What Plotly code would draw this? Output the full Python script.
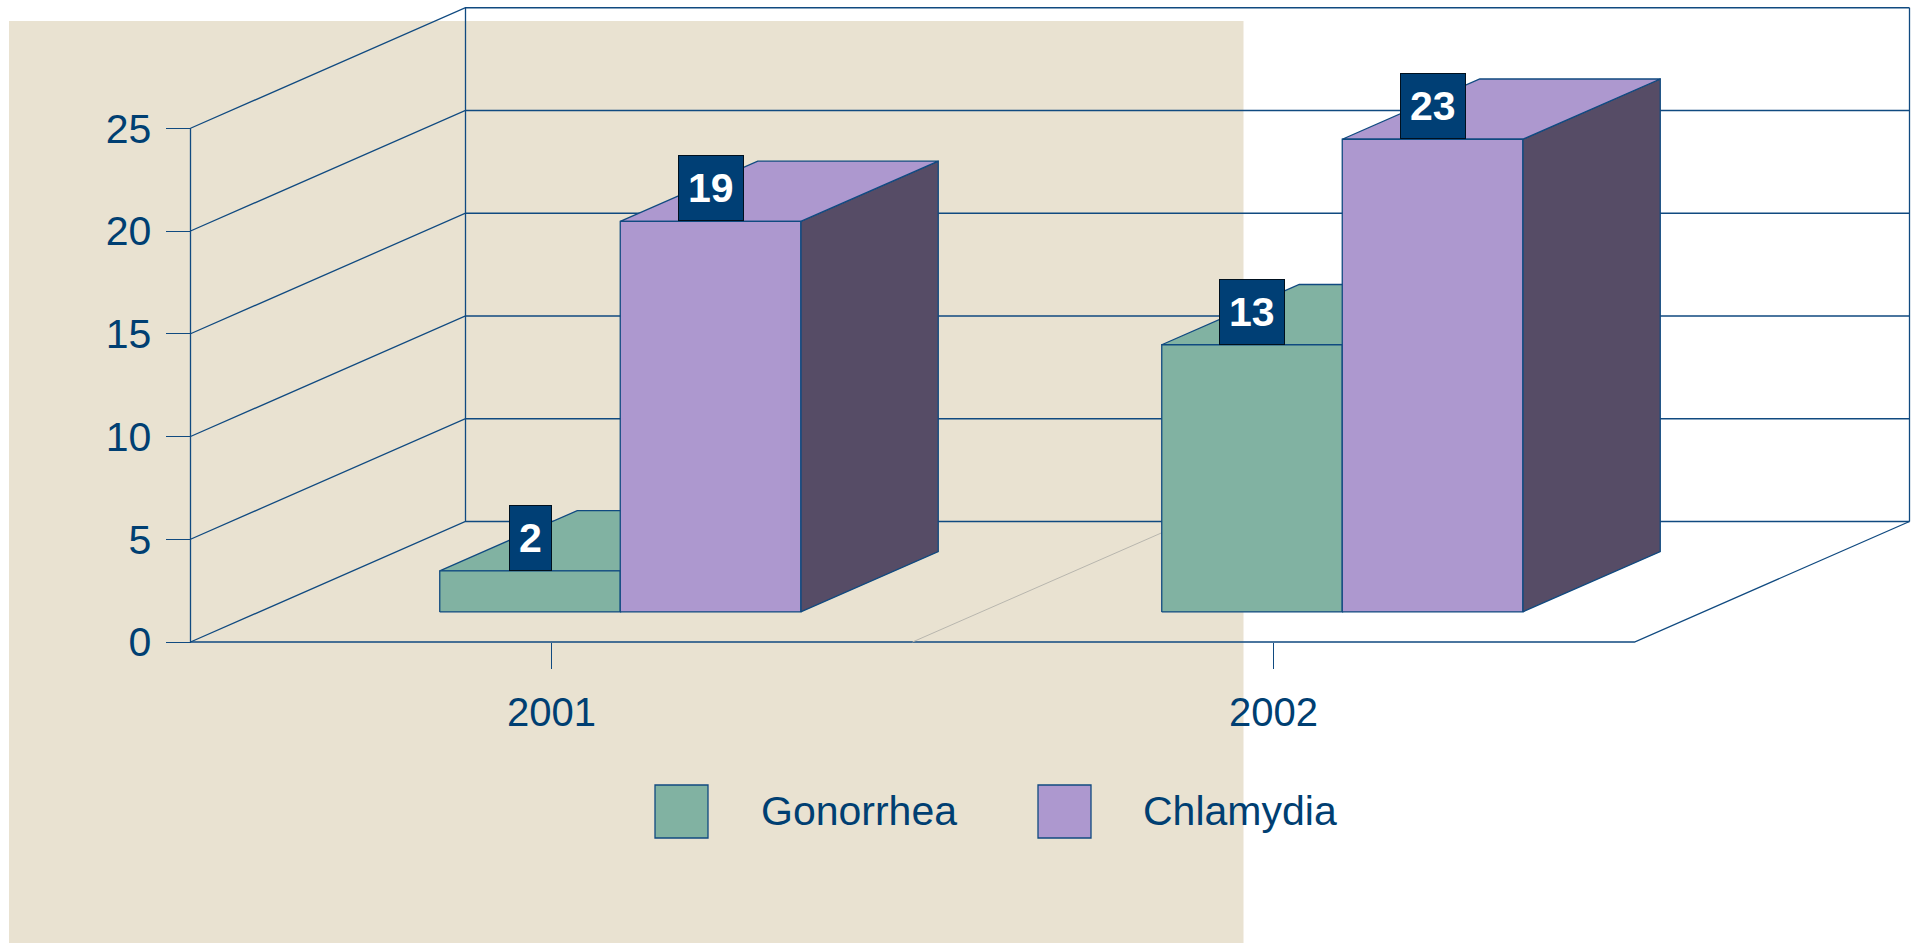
import plotly.graph_objects as go

# ---- data ----
years = ["2001", "2002"]
gonorrhea = [2, 13]
chlamydia = [19, 23]
series_names = ["Gonorrhea", "Chlamydia"]
y_ticks = [0, 5, 10, 15, 20, 25]

# ---- styles ----
W, H = 1917, 943
GREEN = "#81B2A2"
PURPLE = "#AD98CF"
SIDE = "#564C66"
LINE = "#104A80"
TEXT = "#003F72"
LABEL_BG = "#003F75"
BEIGE = "#E9E2D1"
FONT = "Liberation Sans, Arial, sans-serif"
LW = 1.3

# pixel scale of the two axes (layout only)
PX_X0, PX_PER_CAT = 551.5, 722.0
PX_Y0, PX_PER_UNIT = 642.0, 20.55

# oblique projection: how far the full depth shifts a point, in axis units
DEPTH_X = 275.0 / PX_PER_CAT
DEPTH_Y = 120.5 / PX_PER_UNIT
BAR_W = 0.25
D0, D1 = 0.25, 0.75  # bar occupies this fraction of the depth


def proj(x, y, d):
    return x + d * DEPTH_X, y + d * DEPTH_Y


def lines_trace(segments, color=LINE, width=LW):
    xs, ys = [], []
    for seg in segments:
        for p in seg:
            xs.append(p[0])
            ys.append(p[1])
        xs.append(None)
        ys.append(None)
    return go.Scatter(x=xs, y=ys, mode="lines", line=dict(color=color, width=width),
                      hoverinfo="skip", showlegend=False)


def poly_trace(points, fill, name=None):
    xs = [p[0] for p in points] + [points[0][0]]
    ys = [p[1] for p in points] + [points[0][1]]
    return go.Scatter(x=xs, y=ys, mode="lines", fill="toself", fillcolor=fill,
                      line=dict(color=LINE, width=LW), hoverinfo="skip" if name is None else "name",
                      name=name or "", showlegend=False)


fig = go.Figure()

x_left, x_right = -0.5, len(years) - 0.5
y_max = y_ticks[-1]

# walls and grid
segs = []
for t in y_ticks:
    segs.append([proj(x_left, t, 0), proj(x_left, t, 1), proj(x_right, t, 1)])
segs.append([proj(x_left, 0, 0), proj(x_left, y_max, 0)])
segs.append([proj(x_left, 0, 1), proj(x_left, y_max, 1)])
segs.append([proj(x_right, 0, 1), proj(x_right, y_max, 1)])
segs.append([proj(x_left, 0, 0), proj(x_right, 0, 0), proj(x_right, 0, 1)])
fig.add_trace(lines_trace(segs))

# floor divider between categories
fig.add_trace(lines_trace([[proj(i + 0.5, 0, 0), proj(i + 0.5, 0, 1)] for i in range(len(years) - 1)],
                          color="#B8B6AE", width=1))

# bars
label_pos = []
for i in range(len(years)):
    for s, (vals, col, nm) in enumerate(zip([gonorrhea, chlamydia], [GREEN, PURPLE], series_names)):
        v = vals[i]
        xa = i - BAR_W + s * BAR_W
        xb = xa + BAR_W
        fig.add_trace(poly_trace([proj(xb, 0, D0), proj(xb, 0, D1), proj(xb, v, D1), proj(xb, v, D0)],
                                 SIDE if s == 1 else col))
        fig.add_trace(poly_trace([proj(xa, v, D0), proj(xa, v, D1), proj(xb, v, D1), proj(xb, v, D0)], col))
        fig.add_trace(poly_trace([proj(xa, 0, D0), proj(xb, 0, D0), proj(xb, v, D0), proj(xa, v, D0)], col, nm))
        label_pos.append((proj((xa + xb) / 2, v, D0), v))

annotations = []
for (lx, ly), v in label_pos:
    annotations.append(dict(x=lx, y=ly, xref="x", yref="y", text=str(v), showarrow=False,
                            xanchor="center", yanchor="bottom",
                            font=dict(family=FONT, size=41, color="white", weight="bold"),
                            bgcolor=LABEL_BG, bordercolor="#00101E", borderwidth=1, borderpad=9))

# legend built by hand (swatches are larger than the native legend allows)
shapes = [dict(type="rect", xref="paper", yref="paper", layer="below",
               x0=9 / W, x1=1243.5 / W, y0=0, y1=1 - 21 / H, fillcolor=BEIGE, line=dict(width=0))]
for nm, col, sx, tx in zip(series_names, [GREEN, PURPLE], [655, 1038], [759, 1141]):
    shapes.append(dict(type="rect", xref="paper", yref="paper", x0=sx / W, x1=(sx + 53) / W,
                       y0=1 - 838 / H, y1=1 - 785 / H, fillcolor=col, line=dict(color=LINE, width=LW)))
    annotations.append(dict(x=tx / W, y=1 - 811 / H, xref="paper", yref="paper", text=nm, showarrow=False,
                            xanchor="left", yanchor="middle", font=dict(family=FONT, size=41, color=TEXT)))

fig.update_layout(
    width=W, height=H, autosize=False,
    margin=dict(l=0, r=0, t=0, b=0),
    paper_bgcolor="white", plot_bgcolor="rgba(0,0,0,0)",
    showlegend=False, shapes=shapes, annotations=annotations,
    font=dict(family=FONT, size=40, color=TEXT),
    xaxis=dict(range=[-PX_X0 / PX_PER_CAT, (W - PX_X0) / PX_PER_CAT], domain=[0, 1],
               tickmode="array", tickvals=list(range(len(years))), ticktext=years,
               ticks="outside", ticklen=26, tickwidth=1, tickcolor=LINE,
               showgrid=False, zeroline=False, showline=False,
               anchor="free", position=1 - PX_Y0 / H, ticklabelstandoff=9,
               tickfont=dict(family=FONT, size=40, color=TEXT)),
    yaxis=dict(range=[(PX_Y0 - H) / PX_PER_UNIT, PX_Y0 / PX_PER_UNIT], domain=[0, 1],
               tickmode="array", tickvals=y_ticks, ticktext=[str(t) for t in y_ticks],
               ticks="outside", ticklen=25, tickwidth=1, tickcolor=LINE,
               showgrid=False, zeroline=False, showline=False,
               anchor="free", position=190.6 / W, ticklabelstandoff=6,
               tickfont=dict(family=FONT, size=41, color=TEXT)),
)

fig.write_html("out.html", config={"displayModeBar": False},
               post_script="document.body.style.margin='0';document.documentElement.style.overflow='hidden';")
